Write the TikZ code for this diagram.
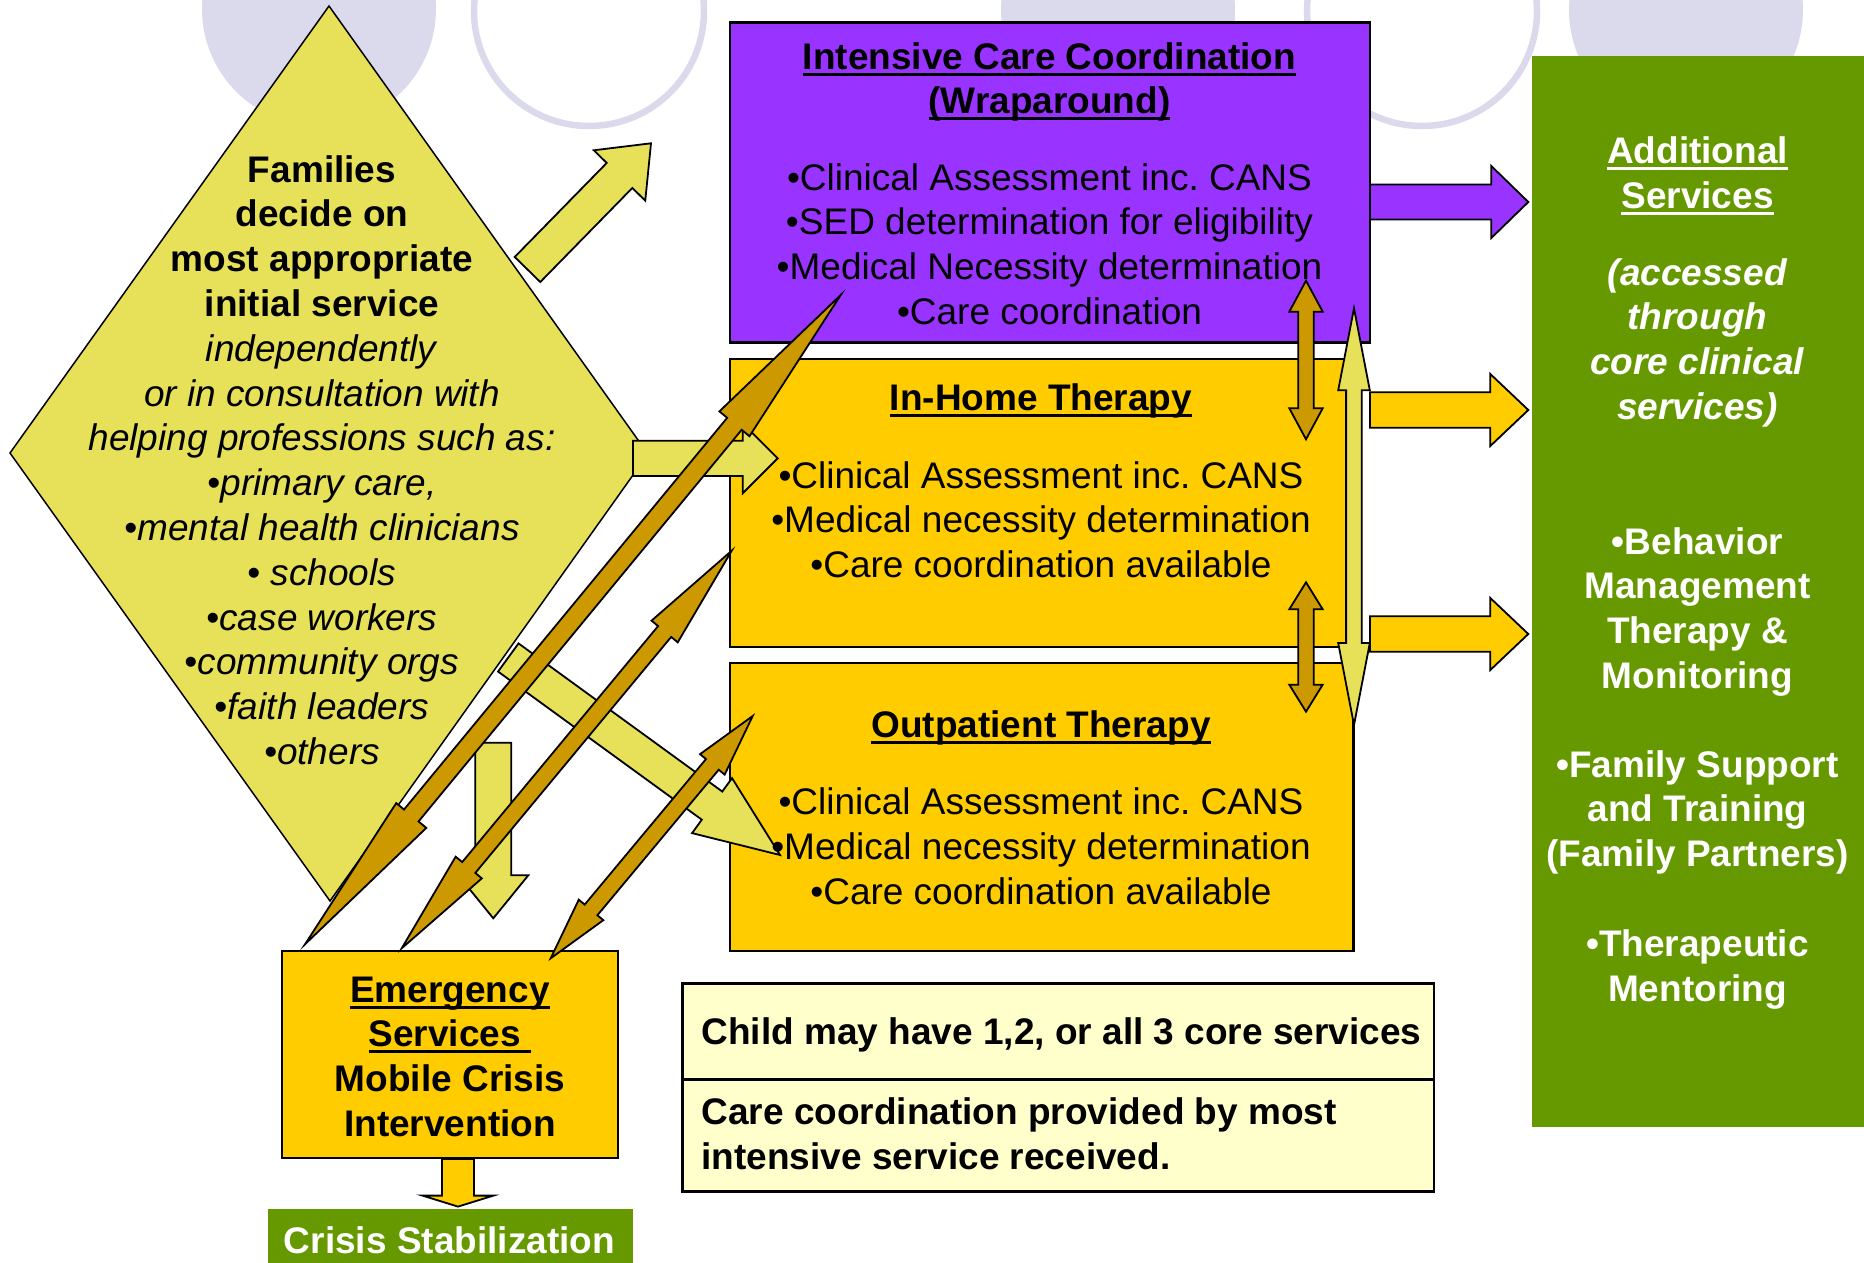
\documentclass[tikz,border=0pt]{standalone}
\usepackage{fontspec}
\setmainfont{Liberation Sans}
\usetikzlibrary{calc}
\frenchspacing

\definecolor{lav}{RGB}{218,218,236}
\definecolor{purp}{RGB}{153,51,255}
\definecolor{gold}{RGB}{255,204,0}
\definecolor{amber}{RGB}{204,153,0}
\definecolor{khaki}{RGB}{231,225,90}
\definecolor{leaf}{RGB}{102,153,0}
\definecolor{cream}{RGB}{255,255,204}

% line strut: every text line gets the same height and depth
\newcommand\ls{\rule[-12.7pt]{0pt}{44.7pt}}
% underline used in the headings
\newsavebox\ulbox
\newcommand\undl[1]{\sbox\ulbox{#1}\rlap{\rule[-6.5pt]{\wd\ulbox}{3pt}}\usebox\ulbox}

% block arrow: style, tail, tip, shaft half width, head half width, head length
\newcommand\onearrow[6]{%
  \coordinate (oa-h) at ($(#3)!#6pt!(#2)$);
  \path[#1] ($(#2)!#4pt!90:(#3)$) -- ($(oa-h)!#4pt!90:(#3)$) -- ($(oa-h)!#5pt!90:(#3)$) -- (#3)
    -- ($(oa-h)!#5pt!-90:(#3)$) -- ($(oa-h)!#4pt!-90:(#3)$) -- ($(#2)!#4pt!-90:(#3)$) -- cycle;}
% double-headed block arrow: style, end A, end B, shaft half width, head half width, head length
\newcommand\twoarrow[6]{%
  \coordinate (ta-a) at ($(#2)!#6pt!(#3)$);
  \coordinate (ta-b) at ($(#3)!#6pt!(#2)$);
  \path[#1] (#2) -- ($(ta-a)!#5pt!90:(#3)$) -- ($(ta-a)!#4pt!90:(#3)$)
    -- ($(ta-b)!#4pt!-90:(#2)$) -- ($(ta-b)!#5pt!-90:(#2)$) -- (#3)
    -- ($(ta-b)!#5pt!90:(#2)$) -- ($(ta-b)!#4pt!90:(#2)$)
    -- ($(ta-a)!#4pt!-90:(#3)$) -- ($(ta-a)!#5pt!-90:(#3)$) -- cycle;}

\tikzset{
  box/.style={draw=black, line width=2.5pt, inner sep=0pt, outer sep=0pt},
  plain/.style={inner sep=0pt, outer sep=0pt},
  txt/.style={inner sep=0pt, outer sep=0pt, align=center, anchor=north,
    font=\fontsize{37pt}{44.7pt}\selectfont},
  blk/.style={draw=black, line width=1.8pt, line join=miter, fill=#1},
}

\begin{document}
\begin{tikzpicture}[x=1pt,y=-1pt]
\useasboundingbox (0,0) rectangle (1864,1263);
\clip (0,0) rectangle (1864,1263);

% background rings
\fill[lav] (319,9) circle[radius=117pt];
\draw[lav, line width=6.5pt] (589,11) circle[radius=115pt];
\fill[lav] (1118,10) circle[radius=117pt];
\draw[lav, line width=6.5pt] (1422,11) circle[radius=115pt];
\fill[lav] (1686,10) circle[radius=117pt];

% decision diamond
\coordinate (dtop) at (329,6);
\coordinate (dright) at (648,454);
\coordinate (dbot) at (330,901);
\coordinate (dleft) at (10,453);
\draw[line width=1.5pt, fill=khaki, line join=miter] (dtop) -- (dright) -- (dbot) -- (dleft) -- cycle;

% service boxes
\node[box, fill=purp, minimum width=640pt, minimum height=320pt] (icc) at (1050,182.5) {};
\node[box, fill=gold, minimum width=616pt, minimum height=288pt] (ihome) at (1038,503) {};
\node[box, fill=gold, minimum width=623.5pt, minimum height=288pt] (outp) at (1041.75,807) {};
\node[plain, fill=leaf, minimum width=340pt, minimum height=1071pt] (addl) at (1701.5,591.5) {};
\node[box, fill=gold, minimum width=336pt, minimum height=207pt] (emerg) at (450,1054.5) {};
\node[plain, fill=leaf, minimum width=365pt, minimum height=71pt] (crisis) at (450,1244.5) {};
\node[box, fill=cream, minimum width=751.5pt, minimum height=208pt] (note) at (1058.25,1087.5) {};
\draw[line width=2.5pt] ($(note.west)+(0,-8)$) -- ($(note.east)+(0,-8)$);

% arrow end points
\coordinate (a-t) at (527.5,269.5);   \coordinate (a-h) at (651,143.3);
\coordinate (b-t) at (633,458.3);     \coordinate (b-h) at (777.7,458.3);
\coordinate (c-t) at (508.3,657.5);   \coordinate (c-h) at (780,855);
\coordinate (d-t) at (493.3,742.7);   \coordinate (d-h) at (493.3,918.3);
\coordinate (i-t) at (1370,202);      \coordinate (i-h) at (1528.3,202);
\coordinate (j-t) at (1370,410);      \coordinate (j-h) at (1528.3,410);
\coordinate (k-t) at (1370,634);      \coordinate (k-h) at (1528.3,634);
\coordinate (e-a) at (1354,308.3);    \coordinate (e-b) at (1354,725);
\coordinate (f-a) at (1306,280.7);    \coordinate (f-b) at (1306,439.3);
\coordinate (g-a) at (1306,582.3);    \coordinate (g-b) at (1306,711.7);
\coordinate (h1-a) at (840.7,295);    \coordinate (h1-b) at (305,944.3);
\coordinate (h2-a) at (731.7,550.7);  \coordinate (h2-b) at (401.7,948.3);
\coordinate (h3-a) at (752.7,716);    \coordinate (h3-b) at (550.7,958.3);
\coordinate (x-t) at (458,1159);      \coordinate (x-h) at (458,1206.6);

% entry arrows out of the diamond
\onearrow{blk=khaki}{a-t}{a-h}{17.9}{36}{45}
\onearrow{blk=khaki}{b-t}{b-h}{17.6}{35}{35}
\onearrow{blk=khaki}{c-t}{c-h}{17.4}{34}{84}
\onearrow{blk=khaki}{d-t}{d-h}{18}{35}{43}

% arrows to the additional services
\onearrow{blk=purp}{i-t}{i-h}{17.5}{36}{37}
\onearrow{blk=gold}{j-t}{j-h}{17.7}{36}{38}
\onearrow{blk=gold}{k-t}{k-h}{17.7}{36}{38}

% texts
\node[txt, font=\fontsize{37pt}{44.8pt}\selectfont] (famtxt) at (322,150) {%
\ls\textbf{Families}\\
\ls\textbf{decide on}\\
\ls\textbf{most appropriate}\\
\ls\textbf{initial service}\\
\ls\textit{independently}\\
\ls\textit{or in consultation with}\\
\ls\textit{helping professions such as:}\\
\ls\textit{•primary care,}\\
\ls\textit{•mental health clinicians}\\
\ls\textit{• schools}\\
\ls\textit{•case workers}\\
\ls\textit{•community orgs}\\
\ls\textit{•faith leaders}\\
\ls\textit{•others}};

\node[txt] (icctxt) at (1049.5,37) {%
\ls\textbf{\undl{Intensive Care Coordination}}\\
\ls\textbf{\undl{(Wraparound)}}\\[31.6pt]
\ls•Clinical Assessment inc. CANS\\
\ls•SED determination for eligibility\\
\ls•Medical Necessity determination\\
\ls•Care coordination};

\node[txt] (ihometxt) at (1041,378) {%
\ls\textbf{\undl{In-Home Therapy}}\\[33.3pt]
\ls•Clinical Assessment inc. CANS\\
\ls•Medical necessity determination\\
\ls•Care coordination available};

\node[txt] (outptxt) at (1041,705.6) {%
\ls\textbf{\undl{Outpatient Therapy}}\\[32.4pt]
\ls•Clinical Assessment inc. CANS\\
\ls•Medical necessity determination\\
\ls•Care coordination available};

\node[txt, text=white] (addltxt) at (1697.5,131.4) {%
\ls\textbf{\undl{Additional}}\\
\ls\textbf{\undl{Services}}\\[32.3pt]
\ls\textbf{\textit{(accessed}}\\
\ls\textbf{\textit{through}}\\
\ls\textbf{\textit{core clinical}}\\
\ls\textbf{\textit{services)}}\\[90.2pt]
\ls\textbf{•Behavior}\\
\ls\textbf{Management}\\
\ls\textbf{Therapy \&}\\
\ls\textbf{Monitoring}\\[44.2pt]
\ls\textbf{•Family Support}\\
\ls\textbf{and Training}\\
\ls\textbf{(Family Partners)}\\[45.5pt]
\ls\textbf{•Therapeutic}\\
\ls\textbf{Mentoring}};

\node[txt] (emergtxt) at (450,970) {%
\ls\textbf{\undl{Emergency}}\\
\ls\textbf{\undl{Services\ }}\\
\ls\textbf{Mobile Crisis}\\
\ls\textbf{Intervention}};

\node[txt, text=white] (crisistxt) at (449.5,1221) {\ls\textbf{Crisis Stabilization}};

\node[txt, anchor=north west, align=left] (note1) at (701.5,1012)
  {\ls\textbf{Child may have 1,2, or all 3 core services}};
\node[txt, anchor=north west, align=left] (note2) at (701.5,1092.5)
  {\ls\textbf{Care coordination provided by most}\\
   \ls\textbf{intensive service received.}};

% two-way links between the services
\twoarrow{blk=khaki}{e-a}{e-b}{7.8}{15.8}{82}
\twoarrow{blk=amber}{f-a}{f-b}{7.8}{16.7}{31}
\twoarrow{blk=amber}{g-a}{g-b}{7.8}{16.7}{27}
\twoarrow{blk=amber}{h1-a}{h1-b}{9.4}{19.5}{167}
\twoarrow{blk=amber}{h2-a}{h2-b}{8.5}{17}{105}
\twoarrow{blk=amber}{h3-a}{h3-b}{8.3}{16}{63}

% emergency to crisis stabilization
\onearrow{blk=gold}{x-t}{x-h}{16}{35.5}{11}
\end{tikzpicture}
\end{document}
